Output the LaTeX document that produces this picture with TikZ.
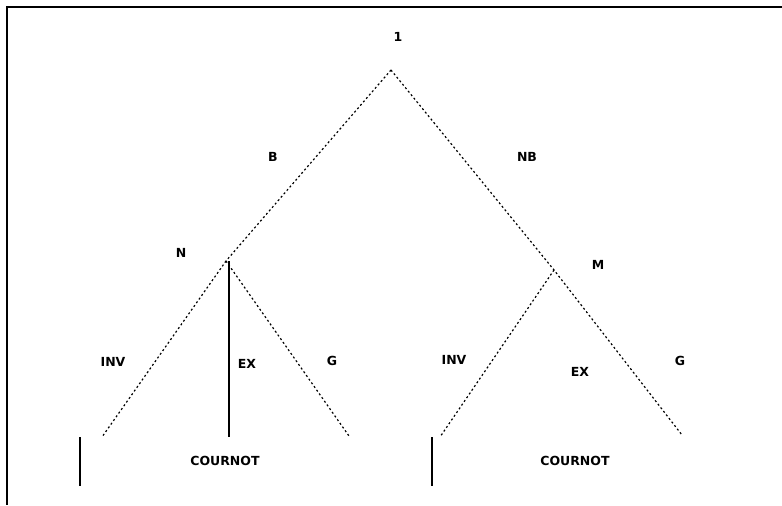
\documentclass[tikz,border=0pt]{standalone}
\usepackage{fontspec}
\setmainfont{DejaVu Sans}
\begin{document}
\begin{tikzpicture}[x=1pt,y=-1pt,
  lbl/.style={font=\bfseries\fontsize{12.5}{14}\selectfont, inner sep=0pt},
  dotline/.style={line width=1.2pt, dash pattern=on 2pt off 2.5pt},
  solidline/.style={line width=1.6pt},
  frame/.style={line width=2pt}]
\useasboundingbox (0,0) rectangle (782,506);
% frame
\draw[frame] (782,7) -- (7,7) -- (7,505);
% tree points
\coordinate (root) at (391,70);
\coordinate (nl) at (226,261);
\coordinate (nr) at (554,270);
\coordinate (l1) at (102,437);
\coordinate (l2) at (229,437);
\coordinate (l3) at (349,436);
\coordinate (r1) at (440,437);
\coordinate (r3) at (682,435);
% branches
\draw[dotline] (root) -- (nl);
\draw[dotline] (root) -- (nr) -- (r3);
\draw[dotline] (nl) -- (l1);
\draw[dotline] (nl) -- (l3);
\draw[solidline] (229,261) -- (l2);
\draw[dotline] (nr) -- (r1);
% labels
\node[lbl] (t1) at (398,37) {1};
\node[lbl] (tb) at (273,157) {B};
\node[lbl] (tnb) at (527,157) {NB};
\node[lbl] (tn) at (181,253) {N};
\node[lbl] (tm) at (598,265) {M};
\node[lbl] (inv1) at (113,362) {INV};
\node[lbl] (ex1) at (247,364) {EX};
\node[lbl] (g1) at (332,361) {G};
\node[lbl] (inv2) at (454,360) {INV};
\node[lbl] (ex2) at (580,372) {EX};
\node[lbl] (g2) at (680,361) {G};
\node[lbl] (c1) at (225,461) {COURNOT};
\node[lbl] (c2) at (575,461) {COURNOT};
% bottom bars
\coordinate (b1t) at (80,437); \coordinate (b1b) at (80,486);
\coordinate (b2t) at (432,437); \coordinate (b2b) at (432,486);
\draw[solidline] (b1t) -- (b1b);
\draw[solidline] (b2t) -- (b2b);
\end{tikzpicture}
\end{document}
